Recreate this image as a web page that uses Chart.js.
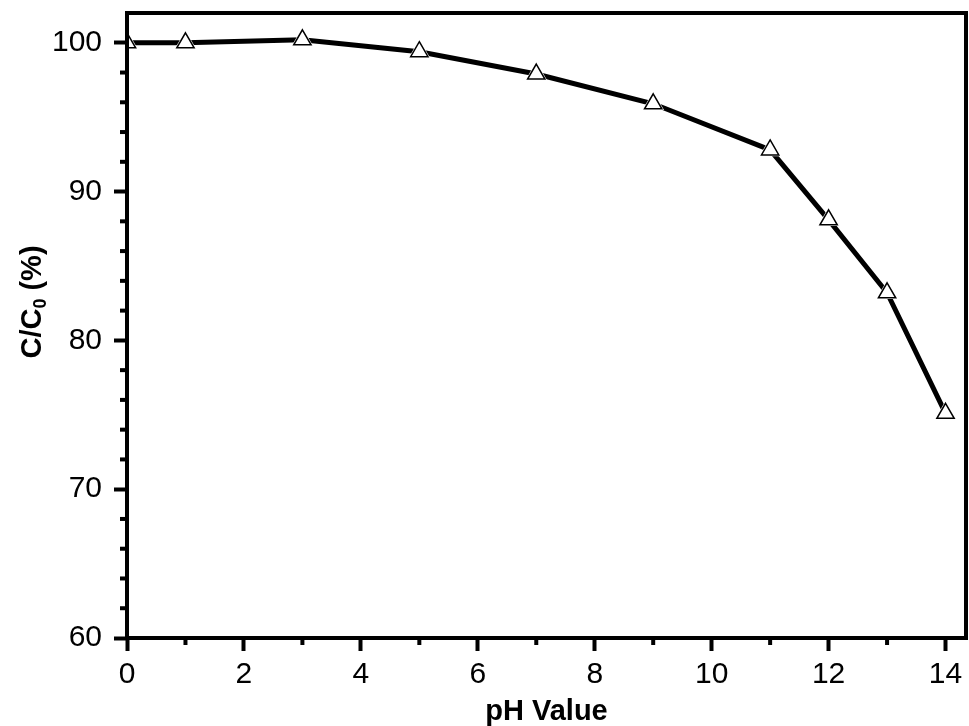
<!DOCTYPE html>
<html>
<head>
<meta charset="utf-8">
<script src="https://cdn.jsdelivr.net/npm/chart.js@4.4.1/dist/chart.umd.min.js"></script>
<style>
  html, body { margin: 0; padding: 0; background: #fff; overflow: hidden; }
  #c { display: block; }
</style>
</head>
<body>
<canvas id="c" width="969" height="726"></canvas>
<script>
// 数据：pH 值与剩余比例 C/C0 (%)
const phValues = [0, 1, 3, 5, 7, 9, 11, 12, 13, 14];
const ratioValues = [100.0, 100.0, 100.2, 99.4, 97.9, 95.9, 92.8, 88.1, 83.2, 75.1];

const xMajorTicks = [0, 2, 4, 6, 8, 10, 12, 14];
const xMinorTicks = [1, 3, 5, 7, 9, 11, 13];
const yMajorTicks = [60, 70, 80, 90, 100];
const yMinorTicks = [62, 64, 66, 68, 72, 74, 76, 78, 82, 84, 86, 88, 92, 94, 96, 98];

const FONT = '"Liberation Sans", Arial, sans-serif';
const points = phValues.map((x, i) => ({ x: x, y: ratioValues[i] }));

// 边框 + 次刻度 + 带下标的 y 轴标题
const framePlugin = {
  id: 'frame',
  afterDatasetsDraw(chart) {
    const { ctx, chartArea: a, scales } = chart;
    ctx.save();
    ctx.strokeStyle = '#000';
    ctx.lineWidth = 4;
    ctx.lineCap = 'butt';
    ctx.strokeRect(a.left, a.top, a.right - a.left, a.bottom - a.top);
    xMinorTicks.forEach(v => {
      const px = scales.x.getPixelForValue(v);
      ctx.beginPath(); ctx.moveTo(px, a.bottom); ctx.lineTo(px, a.bottom + 7); ctx.stroke();
    });
    yMinorTicks.forEach(v => {
      const py = scales.y.getPixelForValue(v);
      ctx.beginPath(); ctx.moveTo(a.left, py); ctx.lineTo(a.left - 7, py); ctx.stroke();
    });
    ctx.restore();
  },
  afterDraw(chart) {
    const ctx = chart.ctx;
    ctx.save();
    ctx.translate(41, 302);
    ctx.rotate(-Math.PI / 2);
    ctx.fillStyle = '#000';
    ctx.textBaseline = 'alphabetic';
    ctx.textAlign = 'left';
    const big = 'bold 29px ' + FONT;
    const small = 'bold 18px ' + FONT;
    ctx.font = big;
    const w1 = ctx.measureText('C/C').width;
    const w3 = ctx.measureText(' (%)').width;
    ctx.font = small;
    const w2 = ctx.measureText('0').width;
    let x0 = -(w1 + w2 + w3) / 2;
    ctx.font = big;
    ctx.fillText('C/C', x0, 0);
    ctx.font = small;
    ctx.fillText('0', x0 + w1, 5);
    ctx.font = big;
    ctx.fillText(' (%)', x0 + w1 + w2, 0);
    ctx.restore();
  }
};

new Chart(document.getElementById('c'), {
  type: 'line',
  data: {
    datasets: [
      {
        label: 'points',
        data: points,
        showLine: false,
        pointStyle: 'triangle',
        pointRadius: 10,
        pointBackgroundColor: '#fff',
        pointBorderColor: '#000',
        pointBorderWidth: 1.5,
        order: 1
      },
      {
        label: 'halo',
        data: points,
        showLine: false,
        pointStyle: 'triangle',
        pointRadius: 12.5,
        pointBackgroundColor: '#fff',
        pointBorderWidth: 0,
        pointBorderColor: '#fff',
        order: 2
      },
      {
        label: 'line',
        data: points,
        borderColor: '#000',
        borderWidth: 5,
        pointRadius: 0,
        tension: 0,
        order: 3
      }
    ]
  },
  options: {
    responsive: false,
    animation: false,
    devicePixelRatio: 1,
    events: [],
    layout: { autoPadding: false, padding: { top: 13, right: 3, left: 0, bottom: 0 } },
    plugins: { legend: { display: false }, tooltip: { enabled: false } },
    scales: {
      x: {
        type: 'linear',
        min: 0,
        max: 14.35,
        afterFit(scale) {
          scale.height = 88;
          scale.paddingLeft = 0;
          scale.paddingRight = 0;
        },
        afterBuildTicks(scale) { scale.ticks = xMajorTicks.map(v => ({ value: v })); },
        grid: { drawOnChartArea: false, drawTicks: true, tickLength: 13, tickWidth: 4, tickColor: '#000' },
        border: { display: false },
        ticks: {
          color: '#000',
          font: { family: FONT, size: 30 },
          padding: 6,
          autoSkip: false,
          maxRotation: 0
        },
        title: {
          display: true,
          text: 'pH Value',
          color: '#000',
          font: { family: FONT, size: 29, weight: 'bold', lineHeight: 1 },
          padding: { top: 0, bottom: 0 }
        }
      },
      y: {
        type: 'linear',
        min: 60,
        max: 102,
        afterFit(scale) {
          scale.width = 127;
          scale.paddingTop = 0;
          scale.paddingBottom = 0;
        },
        afterBuildTicks(scale) { scale.ticks = yMajorTicks.map(v => ({ value: v })); },
        grid: { drawOnChartArea: false, drawTicks: true, tickLength: 13, tickWidth: 4, tickColor: '#000' },
        border: { display: false },
        ticks: {
          color: '#000',
          font: { family: FONT, size: 30 },
          padding: 12,
          autoSkip: false
        },
        title: { display: false }
      }
    }
  },
  plugins: [framePlugin]
});
</script>
</body>
</html>
